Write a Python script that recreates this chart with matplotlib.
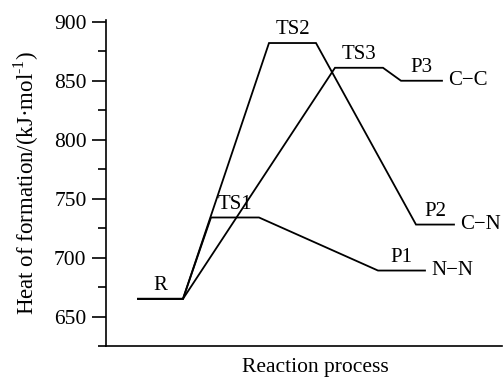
import matplotlib
matplotlib.use("Agg")
import matplotlib.pyplot as plt
from matplotlib.ticker import MultipleLocator

# energy levels (kJ/mol) and their x spans along the reaction coordinate
levels = {
    "R": (665, 3.2, 7.7),
    "TS1": (734, 10.5, 15.3),
    "TS2": (882, 16.3, 21.0),
    "TS3": (861, 22.9, 27.7),
    "P1": (689, 27.2, 31.9),
    "P2": (728, 31.0, 34.8),
    "P3": (850, 29.5, 33.6),
}
paths = [["R", "TS1", "P1"], ["R", "TS2", "P2"], ["R", "TS3", "P3"]]
bond_names = {"P1": "N\u2212N", "P2": "C\u2212N", "P3": "C\u2212C"}

plt.rcParams["font.family"] = ["Liberation Serif", "DejaVu Serif"]
plt.rcParams["mathtext.fontset"] = "custom"
plt.rcParams["mathtext.rm"] = "Liberation Serif"

fig = plt.figure(figsize=(5.04, 3.78), dpi=100)
ax = fig.add_axes([0.2103, 0.0847, 0.7857, 0.8623])

for path in paths:
    xs, ys = [], []
    for name in path:
        e, x0, x1 = levels[name]
        xs += [x0, x1]
        ys += [e, e]
    ax.plot(xs, ys, color="black", lw=1.3, solid_joinstyle="miter")

for name, (e, x0, x1) in levels.items():
    ax.text((x0 + x1) / 2, e + 3, name, ha="center", va="bottom", fontsize=15)
    if name in bond_names:
        ax.text(x1 + 0.6, e, bond_names[name], ha="left", va="center", fontsize=15)

ax.set_xlim(0, 39.6)
ax.set_ylim(625, 901.5)
ax.yaxis.set_major_locator(MultipleLocator(50))
ax.yaxis.set_minor_locator(MultipleLocator(25))
ax.set_xticks([])
ax.tick_params(axis="y", which="major", length=10, width=1.2, labelsize=15.5, pad=4)
ax.tick_params(axis="y", which="minor", length=6, width=1.2)
ax.spines["top"].set_visible(False)
ax.spines["right"].set_visible(False)
ax.spines["left"].set_linewidth(1.2)
ax.spines["bottom"].set_linewidth(1.2)

ax.set_ylabel("Heat of formation/(kJ\u00b7mol$^{\\mathrm{\u20101}}$)", fontsize=16.5)
ax.yaxis.set_label_coords(-0.165, 0.5)
ax.set_xlabel("Reaction process", fontsize=15.5)
ax.xaxis.set_label_coords(0.53, -0.038)
ax.xaxis.label.set_va("top")

fig.savefig("out.png", dpi=100)
